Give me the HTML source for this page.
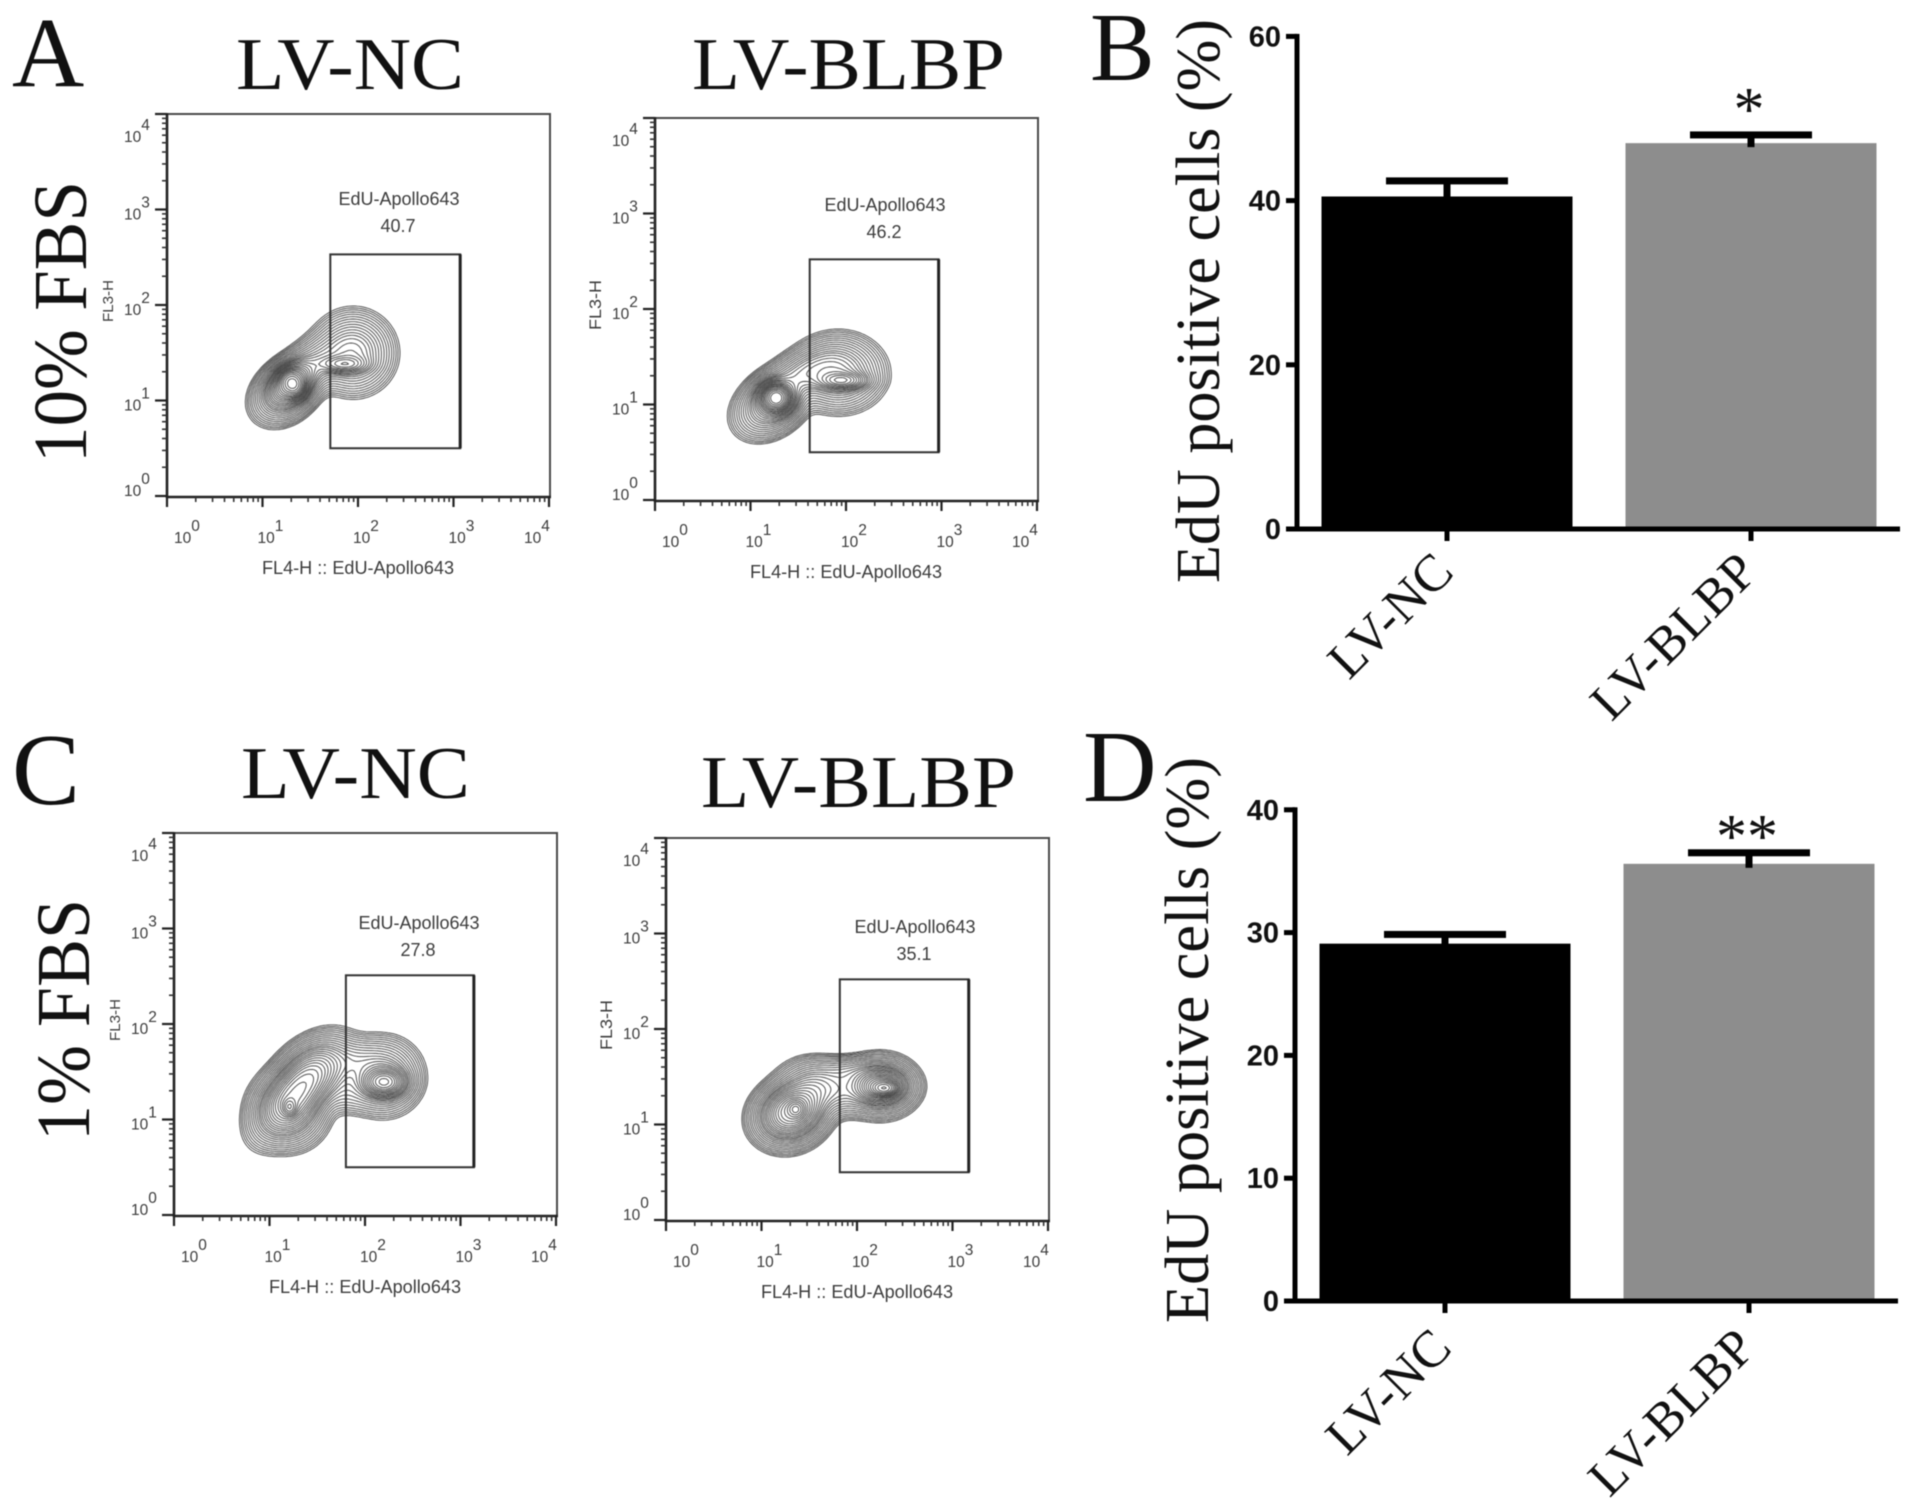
<!DOCTYPE html>
<html lang="en">
<head>
<meta charset="utf-8">
<title>EdU flow cytometry and positive cell bar charts</title>
<style>
html,body{margin:0;padding:0;background:#fff;}
body{width:1913px;height:1507px;overflow:hidden;}
#figure{display:block;filter:blur(0.6px);}
.serif{font-family:"Liberation Serif",serif;fill:#111;}
.sans{font-family:"Liberation Sans",sans-serif;}
</style>
</head>
<body>
<svg id="figure" xmlns="http://www.w3.org/2000/svg" width="1913" height="1507" viewBox="0 0 1913 1507">
  <rect x="0" y="0" width="1913" height="1507" fill="#fff"/>

  <text class="serif" x="12" y="86" font-size="100">A</text>
  <text class="serif" x="1090" y="80" font-size="97">B</text>
  <text class="serif" x="12" y="804" font-size="102">C</text>
  <text class="serif" x="1083" y="801" font-size="102">D</text>

  <text class="serif" x="236" y="89" font-size="74" textLength="228" lengthAdjust="spacingAndGlyphs">LV-NC</text>
  <text class="serif" x="692" y="89" font-size="74" textLength="313" lengthAdjust="spacingAndGlyphs">LV-BLBP</text>
  <text class="serif" x="241" y="798" font-size="74" textLength="229" lengthAdjust="spacingAndGlyphs">LV-NC</text>
  <text class="serif" x="701" y="807" font-size="74" textLength="315" lengthAdjust="spacingAndGlyphs">LV-BLBP</text>

  <text class="serif" transform="translate(86 463) rotate(-90)" font-size="76" textLength="282" lengthAdjust="spacingAndGlyphs">10% FBS</text>
  <text class="serif" transform="translate(89 1141) rotate(-90)" font-size="76" textLength="242" lengthAdjust="spacingAndGlyphs">1% FBS</text>

  <g id="flow-a1"></g>
  <g id="flow-a2"></g>
  <g id="flow-c1"></g>
  <g id="flow-c2"></g>

  <text class="serif" transform="translate(1219 583) rotate(-90)" font-size="62" fill="#222" textLength="564" lengthAdjust="spacingAndGlyphs">EdU positive cells (%)</text>
  <text class="serif" transform="translate(1208 1323) rotate(-90)" font-size="62" fill="#222" textLength="566" lengthAdjust="spacingAndGlyphs">EdU positive cells (%)</text>

  <g id="bars-b"></g>
  <g id="bars-d"></g>
</svg>

<script>
/* ---------- bar chart data ---------- */
const barCategories = ['LV-NC', 'LV-BLBP'];
const barValuesB = [40.5, 47.0];
const barErrorsB = [1.9, 1.0];
const barTicksB = [0, 20, 40, 60];
const barSignificanceB = ['', '*'];
const barValuesD = [29.1, 35.6];
const barErrorsD = [0.75, 0.9];
const barTicksD = [0, 10, 20, 30, 40];
const barSignificanceD = ['', '**'];

/* ---------- flow plot data (log10 units) ---------- */
const flowDecades = [0, 1, 2, 3, 4];
const flowTickBase = '10';
const flowMinorMultiples = [2, 3, 4, 5, 6, 7, 8, 9];
const flowXAxisTitle = 'FL4-H :: EdU-Apollo643';
const flowYAxisTitle = 'FL3-H';
const flowGateName = 'EdU-Apollo643';
const contourLevels = [0.02, 0.027, 0.036, 0.049, 0.066, 0.09, 0.12, 0.16, 0.21, 0.27, 0.34, 0.42, 0.5, 0.6, 0.72, 0.85, 1.0, 1.18, 1.38, 1.6, 1.85, 2.15, 2.5, 2.95, 3.5, 4.2, 5.0];

const gateValueA1 = '40.7';
const gateXA1 = [1.71, 3.07];
const gateYA1 = [0.50, 2.53];
const gateValueA2 = '46.2';
const gateXA2 = [1.62, 2.97];
const gateYA2 = [0.50, 2.52];
const gateValueC1 = '27.8';
const gateXC1 = [1.80, 3.14];
const gateYC1 = [0.50, 2.51];
const gateValueC2 = '35.1';
const gateXC2 = [1.82, 3.17];
const gateYC2 = [0.50, 2.52];

/* each row: centre log-x, centre log-y, spread x, spread y, tilt in degrees, density */
const blobsA1 = [
  [1.25, 1.10, 0.17, 0.125, 40, 1.0],
  [1.95, 1.50, 0.18, 0.18, 0, 0.8],
  [1.55, 1.38, 0.20, 0.12, 35, 0.5],
  [1.30, 1.19, 0.13, 0.09, 40, 2.5],
  [1.32, 1.17, 0.06, 0.08, 35, 2.5],
  [1.85, 1.38, 0.14, 0.05, 0, 1.0]
];
const blobsA2 = [
  [1.22, 1.00, 0.18, 0.13, 35, 1.0],
  [1.92, 1.33, 0.20, 0.165, 0, 0.9],
  [1.55, 1.32, 0.22, 0.11, 25, 0.6],
  [1.27, 1.07, 0.10, 0.09, 0, 3.0],
  [1.27, 1.07, 0.06, 0.06, 0, 2.5],
  [1.96, 1.25, 0.14, 0.05, 0, 1.2]
];
const blobsC1 = [
  [1.20, 1.10, 0.17, 0.17, 0, 1.0],
  [1.50, 1.50, 0.20, 0.15, 30, 0.8],
  [2.20, 1.45, 0.17, 0.17, 0, 0.7],
  [1.30, 1.30, 0.25, 0.13, 50, 2.5],
  [1.21, 1.13, 0.04, 0.05, 0, 2.5],
  [2.20, 1.39, 0.12, 0.08, 0, 2.0],
  [1.90, 1.60, 0.18, 0.12, 0, 0.3],
  [1.85, 1.30, 0.20, 0.12, 0, 0.15]
];
const blobsC2 = [
  [1.30, 1.10, 0.17, 0.15, 25, 1.0],
  [1.55, 1.40, 0.17, 0.13, 0, 0.6],
  [2.25, 1.40, 0.17, 0.14, 0, 0.8],
  [1.85, 1.35, 0.20, 0.12, 0, 0.35],
  [1.95, 1.55, 0.20, 0.08, 0, 0.25],
  [1.33, 1.15, 0.17, 0.13, 25, 2.2],
  [1.36, 1.16, 0.05, 0.05, 0, 2.5],
  [2.25, 1.40, 0.14, 0.09, 0, 2.0],
  [2.29, 1.38, 0.07, 0.04, 0, 2.5]
];

const SVGNS = 'http://www.w3.org/2000/svg';
function make(tag, parent, attrs) {
  const el = document.createElementNS(SVGNS, tag);
  for (const k in attrs) el.setAttribute(k, attrs[k]);
  parent.appendChild(el);
  return el;
}

const PLOT_W = 383;
const PLOT_H = 383;
const DEC_X = 95.5;
const DEC_Y = 95.5;

function density(blobs, lx, ly) {
  let f = 0;
  for (const b of blobs) {
    const t = b[4] * Math.PI / 180;
    const dx = lx - b[0], dy = ly - b[1];
    const u = dx * Math.cos(t) + dy * Math.sin(t);
    const v = -dx * Math.sin(t) + dy * Math.cos(t);
    f += b[5] * Math.exp(-0.5 * (u * u / (b[2] * b[2]) + v * v / (b[3] * b[3])));
  }
  return f;
}

function contourPath(blobs, level, sx, sy) {
  const step = 2, x0 = 40, x1 = 300, y0 = 150, y1 = 360;
  const cols = Math.floor((x1 - x0) / step) + 1;
  const rows = Math.floor((y1 - y0) / step) + 1;
  const field = blobs.field;
  let d = '';
  for (let r = 0; r < rows - 1; r++) {
    for (let c = 0; c < cols - 1; c++) {
      const a = field[r * cols + c], b = field[r * cols + c + 1];
      const e = field[(r + 1) * cols + c + 1], g = field[(r + 1) * cols + c];
      const px = x0 + c * step, py = y0 + r * step;
      const pts = [];
      if ((a < level) !== (b < level)) pts.push([px + step * (level - a) / (b - a), py]);
      if ((b < level) !== (e < level)) pts.push([px + step, py + step * (level - b) / (e - b)]);
      if ((g < level) !== (e < level)) pts.push([px + step * (level - g) / (e - g), py + step]);
      if ((a < level) !== (g < level)) pts.push([px, py + step * (level - a) / (g - a)]);
      for (let i = 0; i + 1 < pts.length; i += 2) {
        d += 'M' + (sx + pts[i][0]).toFixed(1) + ' ' + (sy + pts[i][1]).toFixed(1) +
             'L' + (sx + pts[i + 1][0]).toFixed(1) + ' ' + (sy + pts[i + 1][1]).toFixed(1);
      }
    }
  }
  return d;
}

function buildField(blobs, yBase) {
  const step = 2, x0 = 40, x1 = 300, y0 = 150, y1 = 360;
  const cols = Math.floor((x1 - x0) / step) + 1;
  const rows = Math.floor((y1 - y0) / step) + 1;
  const field = new Float64Array(cols * rows);
  for (let r = 0; r < rows; r++) {
    for (let c = 0; c < cols; c++) {
      const lx = (x0 + c * step) / DEC_X;
      const ly = (yBase - (y0 + r * step)) / DEC_Y;
      field[r * cols + c] = density(blobs, lx, ly);
    }
  }
  blobs.field = field;
}

function flowPlot(id, ox, oy, blobs, gateX, gateY, gateValue, labelDx, labelDy, yTitleLen) {
  const g = document.getElementById(id);
  const yBase = 382;
  const sx = v => ox + v * DEC_X;
  const sy = v => oy + yBase - v * DEC_Y;

  let el = make('rect', g, { x: ox, y: oy, width: PLOT_W, height: PLOT_H, fill: 'none', stroke: '#4a4a4a', 'stroke-width': 2 });
  
  

  el = make('line', g, { x1: ox, y1: oy - 1, x2: ox, y2: oy + PLOT_H + 1, stroke: '#222', 'stroke-width': 2.6 });
  
  

  el = make('line', g, { x1: ox - 1, y1: oy + PLOT_H, x2: ox + PLOT_W + 1, y2: oy + PLOT_H, stroke: '#222', 'stroke-width': 2.6 });
  
  

  /* minor and major ticks */
  for (let i = 0; i < flowDecades.length; i++) {
    const dec = flowDecades[i];
    el = make('line', g, { x1: sx(dec), y1: oy + PLOT_H, x2: sx(dec), y2: oy + PLOT_H + 10, stroke: '#222', 'stroke-width': 2.2 });
    
    

    el = make('line', g, { x1: ox - 12, y1: sy(dec), x2: ox, y2: sy(dec), stroke: '#222', 'stroke-width': 2.2 });
    
    

    if (i < flowDecades.length - 1) {
      for (const m of flowMinorMultiples) {
        const v = dec + Math.log10(m);
        el = make('line', g, { x1: sx(v), y1: oy + PLOT_H, x2: sx(v), y2: oy + PLOT_H + 5, stroke: '#333', 'stroke-width': 1.6 });
        
        

        el = make('line', g, { x1: ox - 5, y1: sy(v), x2: ox, y2: sy(v), stroke: '#333', 'stroke-width': 1.6 });
        
        
      }
    }

    /* tick labels */
    const xLabelX = i === flowDecades.length - 1 ? sx(dec) - 25 : sx(dec) + (i === 0 ? 7 : -5);
    el = make('text', g, { x: xLabelX, y: oy + 429, class: 'sans', 'font-size': 15.5, fill: '#3c3c3c' });
    
    
    el.textContent = flowTickBase;
    let sup = make('tspan', el, { dx: 0, dy: -12 });
    
    
    sup.textContent = String(dec);

    const yLabelBase = i === flowDecades.length - 1 ? sy(dec) + 28 : (i === 0 ? sy(dec) : sy(dec) + 10);
    el = make('text', g, { x: ox - 43, y: yLabelBase, class: 'sans', 'font-size': 15.5, fill: '#3c3c3c' });
    
    
    el.textContent = flowTickBase;
    sup = make('tspan', el, { dx: 0, dy: -12 });
    
    
    sup.textContent = String(dec);
  }

  /* contours */
  buildField(blobs, yBase);
  const cg = make('g', g, { fill: 'none', stroke: '#1f1f1f', 'stroke-width': 0.95, 'stroke-opacity': 0.78, 'stroke-linecap': 'round' });
  
  
  for (const lvl of contourLevels) {
    el = make('path', cg, { d: contourPath(blobs, lvl, ox, oy) });
    
    
  }

  /* gate */
  el = make('rect', g, {
    x: sx(gateX[0]), y: sy(gateY[1]),
    width: sx(gateX[1]) - sx(gateX[0]), height: sy(gateY[0]) - sy(gateY[1]),
    fill: 'none', stroke: '#333', 'stroke-width': 2
  });
  
  

  el = make('line', g, { x1: sx(gateX[1]), y1: sy(gateY[1]), x2: sx(gateX[1]), y2: sy(gateY[0]), stroke: '#222', 'stroke-width': 3 });
  
  

  el = make('text', g, { x: ox + labelDx, y: oy + labelDy, class: 'sans', 'font-size': 18, fill: '#3c3c3c', 'text-anchor': 'middle' });
  
  
  el.textContent = flowGateName;

  el = make('text', g, { x: ox + labelDx - 1, y: oy + labelDy + 27, class: 'sans', 'font-size': 18, fill: '#3c3c3c', 'text-anchor': 'middle' });
  
  
  el.textContent = gateValue;

  /* axis titles */
  el = make('text', g, { x: ox + 95, y: oy + 460, class: 'sans', 'font-size': 18, fill: '#3c3c3c', textLength: 192, lengthAdjust: 'spacingAndGlyphs' });
  
  
  el.textContent = flowXAxisTitle;

  el = make('text', g, {
    class: 'sans', 'font-size': yTitleLen > 45 ? 17 : 15, fill: '#3c3c3c', 'text-anchor': 'middle',
    textLength: yTitleLen, lengthAdjust: 'spacingAndGlyphs',
    transform: 'translate(' + (ox - 54) + ' ' + (oy + 187) + ') rotate(-90)'
  });
  
  
  el.textContent = flowYAxisTitle;
}

function barChart(id, axisX, baseY, unit, centers, values, errors, ticks, marks, markY, labelY) {
  const g = document.getElementById(id);
  const sy = v => baseY - v * unit;
  const top = sy(ticks[ticks.length - 1]);
  const colors = ['#000', '#8d8d8d'];
  const barW = 251, capW = 122;
  let el;

  for (let i = 0; i < values.length; i++) {
    el = make('rect', g, { x: centers[i] - barW / 2, y: sy(values[i]), width: barW, height: baseY - sy(values[i]), fill: colors[i] });
    
    

    el = make('rect', g, { x: centers[i] - 3.5, y: sy(values[i] + errors[i]), width: 7, height: sy(values[i]) - sy(values[i] + errors[i]) + 4, fill: '#000' });
    
    

    el = make('rect', g, { x: centers[i] - capW / 2, y: sy(values[i] + errors[i]) - 3.5, width: capW, height: 7, fill: '#000' });
    
    

    el = make('rect', g, { x: centers[i] - 2.5, y: baseY, width: 5, height: 12, fill: '#000' });
    
    

    el = make('text', g, {
      class: 'serif', 'font-size': 52, 'text-anchor': 'end', fill: '#222', 'letter-spacing': 0.4,
      transform: 'translate(' + (centers[i] + 9) + ' ' + labelY + ') rotate(-45)'
    });
    
    
    el.textContent = barCategories[i];

    if (marks[i]) {
      el = make('text', g, { x: centers[i] - 2, y: markY, class: 'serif', 'font-size': 62, 'text-anchor': 'middle', fill: '#222' });
      
      
      el.textContent = marks[i];
    }
  }

  el = make('rect', g, { x: axisX - 2.5, y: top - 2.5, width: 5, height: baseY - top + 5, fill: '#000' });
  
  

  el = make('rect', g, { x: axisX - 11, y: baseY - 2.5, width: 614, height: 5, fill: '#000' });
  
  

  for (const t of ticks) {
    el = make('rect', g, { x: axisX - 11, y: sy(t) - 2.5, width: 11, height: 5, fill: '#000' });
    
    

    el = make('text', g, { x: axisX - 16, y: sy(t) + 10, class: 'sans', 'font-size': 29, 'font-weight': 'bold', 'text-anchor': 'end', fill: '#111' });
    
    
    el.textContent = String(t);
  }
}

flowPlot('flow-a1', 167, 114, blobsA1, gateXA1, gateYA1, gateValueA1, 232, 91, 42);
flowPlot('flow-a2', 655, 118, blobsA2, gateXA2, gateYA2, gateValueA2, 230, 93, 50);
flowPlot('flow-c1', 174, 833, blobsC1, gateXC1, gateYC1, gateValueC1, 245, 96, 42);
flowPlot('flow-c2', 666, 838, blobsC2, gateXC2, gateYC2, gateValueC2, 249, 95, 50);

barChart('bars-b', 1297, 529, 8.21, [1447, 1751], barValuesB, barErrorsB, barTicksB, barSignificanceB, 130, 574);
barChart('bars-d', 1295, 1301, 12.28, [1445, 1749], barValuesD, barErrorsD, barTicksD, barSignificanceD, 857, 1350);
</script>
</body>
</html>
